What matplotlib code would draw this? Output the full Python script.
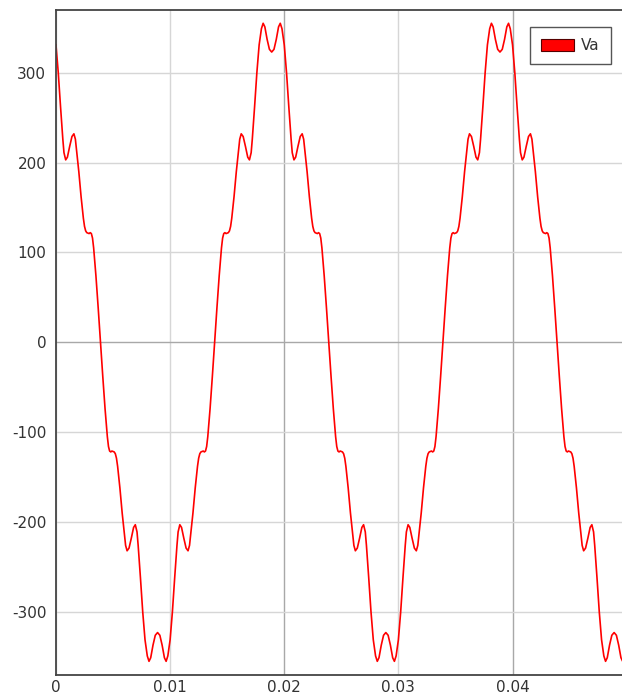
import numpy as np
import matplotlib
matplotlib.use("Agg")
import matplotlib.pyplot as plt
from matplotlib.patches import Patch

plt.rcParams["axes.unicode_minus"] = False

# one period of the phase voltage Va (s, V); the trace repeats every 20 ms
period = 0.02
t_period = [
    0.0000, 0.0002, 0.0004, 0.0006, 0.0007, 0.00085, 0.0010, 0.0012, 0.0014, 0.00157,
    0.0017, 0.0018, 0.0020, 0.0022, 0.0024, 0.0025, 0.0026, 0.0027, 0.0029, 0.0030,
    0.0031, 0.0032, 0.0033, 0.0035, 0.0037, 0.0039,
    0.0041, 0.0043, 0.0045, 0.0046, 0.0047, 0.0048, 0.0049, 0.0051, 0.0052, 0.0053,
    0.0054, 0.0056, 0.0058, 0.0060, 0.0061, 0.00623, 0.0064, 0.0066, 0.0068, 0.00695,
    0.0071, 0.0072, 0.0074, 0.0076, 0.0078, 0.0080, 0.00815, 0.0083, 0.0085, 0.0087,
    0.0089, 0.0091, 0.0093, 0.0095, 0.00965, 0.0098, 0.0100, 0.0102, 0.0104, 0.0106,
    0.0107, 0.01085, 0.0110, 0.0112, 0.0114, 0.01157, 0.0117, 0.0118, 0.0120, 0.0122,
    0.0124, 0.0125, 0.0126, 0.0127, 0.0129, 0.0130, 0.0131, 0.0132, 0.0133, 0.0135,
    0.0137, 0.0139,
    0.0141, 0.0143, 0.0145, 0.0146, 0.0147, 0.0148, 0.0149, 0.0151, 0.0152, 0.0153,
    0.0154, 0.0156, 0.0158, 0.0160, 0.0161, 0.01623, 0.0164, 0.0166, 0.0168, 0.01695,
    0.0171, 0.0172, 0.0174, 0.0176, 0.0178, 0.0180, 0.01815, 0.0183, 0.0185, 0.0187,
    0.0189, 0.0191, 0.0193, 0.0195, 0.01965, 0.0198,
]
va_period = [
    331, 300, 262, 226, 211, 203, 206, 218, 229, 232,
    226, 214, 190, 162, 138, 129, 124, 122, 121, 122,
    121, 116, 105, 74, 38, 0,
    -38, -74, -105, -116, -121, -122, -121, -122, -124, -129,
    -138, -162, -190, -214, -226, -232, -229, -218, -206, -203,
    -211, -226, -262, -300, -331, -349, -355, -351, -337, -326,
    -323, -326, -337, -351, -355, -349, -331, -300, -262, -226,
    -211, -203, -206, -218, -229, -232, -226, -214, -190, -162,
    -138, -129, -124, -122, -121, -122, -121, -116, -105, -74,
    -38, 0,
    38, 74, 105, 116, 121, 122, 121, 122, 124, 129,
    138, 162, 190, 214, 226, 232, 229, 218, 206, 203,
    211, 226, 262, 300, 331, 349, 355, 351, 337, 326,
    323, 326, 337, 351, 355, 349,
]
n_periods = 3

t = np.concatenate([np.array(t_period) + k * period for k in range(n_periods)])
va = np.tile(va_period, n_periods)

x_ticks = [0, 0.01, 0.02, 0.03, 0.04]
x_labels = ["0", "0.01", "0.02", "0.03", "0.04"]
y_ticks = [-300, -200, -100, 0, 100, 200, 300]

fig = plt.figure(figsize=(6.22, 7.0), dpi=100)
ax = fig.add_axes([0.090, 0.036, 0.912, 0.950])

ax.set_xlim(0, 0.0497)
ax.set_ylim(-370, 370)

# light grid everywhere, darker lines at zero and every 20 ms
for x in x_ticks:
    c = "#a8a8a8" if x in (0.02, 0.04) else "#d6d6d6"
    ax.axvline(x, color=c, lw=1, zorder=0)
for y in y_ticks:
    c = "#a8a8a8" if y == 0 else "#d6d6d6"
    ax.axhline(y, color=c, lw=1, zorder=0)

ax.plot(t, va, color="#ff0000", lw=1.2, zorder=2)

ax.set_xticks(x_ticks)
ax.set_xticklabels(x_labels)
ax.set_yticks(y_ticks)
ax.tick_params(length=0, labelsize=11, colors="#333333", pad=7)
ax.tick_params(axis="x", pad=4)

for side in ["left", "top", "bottom"]:
    ax.spines[side].set_color("#444444")
    ax.spines[side].set_linewidth(1.3)
ax.spines["right"].set_visible(False)

handle = Patch(facecolor="#ff0000", edgecolor="#550000", lw=0.8)
leg = ax.legend([handle], ["Va"], loc="upper right", bbox_to_anchor=(0.983, 0.978),
                fancybox=False, framealpha=1, edgecolor="#555555", fontsize=11,
                handlelength=2.2, handleheight=0.8, handletextpad=0.45,
                borderpad=0.7, borderaxespad=0.2, labelcolor="#333333")
leg.get_frame().set_linewidth(1.0)

fig.savefig("out.png", dpi=100)
